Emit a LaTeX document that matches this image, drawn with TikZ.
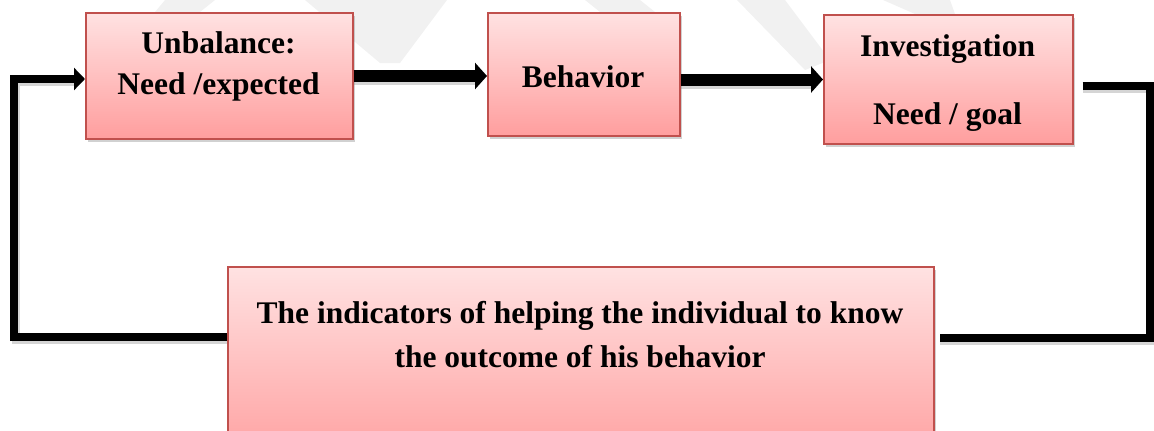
\documentclass[tikz,border=0pt]{standalone}
\usepackage{fontspec}
\setmainfont{Liberation Serif}
\usetikzlibrary{arrows.meta,shadows}
\definecolor{boxtop}{RGB}{255,226,226}
\definecolor{boxbot}{RGB}{255,158,158}
\definecolor{boxline}{RGB}{192,80,77}
\definecolor{wm}{RGB}{241,241,241}
\tikzset{
  boxnode/.style={draw=boxline, line width=1.5pt, top color=boxtop, bottom color=boxbot,
    inner sep=0pt, anchor=north west,
    drop shadow={shadow xshift=2pt, shadow yshift=-3pt, opacity=.3, fill=black!60}},
  lbl/.style={font=\fontsize{31.5}{38}\selectfont\bfseries, anchor=base, inner sep=0pt},
  bigarrow/.style={line width=12pt, -{Triangle[length=12pt,width=26pt]}},
  looparrow/.style={line width=8pt, -{Triangle[length=11pt,width=22pt]}},
  loopline/.style={line width=8pt},
  lshadow/.style={draw=black!55, opacity=.3},
}
\begin{document}
\begin{tikzpicture}[x=1pt,y=-1pt]
\useasboundingbox (0,0) rectangle (1154,431);
\clip (0,0) rectangle (1154,431);
% faint watermark
\fill[wm] (165,0) -- (215,0) -- (200,12) -- (155,12) -- cycle;
\fill[wm] (305,0) -- (447,0) -- (400,63) -- (380,63) -- cycle;
\fill[wm] (585,0) -- (640,0) -- (655,12) -- (600,12) -- cycle;
\fill[wm] (737,0) -- (785,0) -- (830,60) -- (805,70) -- cycle;
\fill[wm] (883,0) -- (950,0) -- (955,14) -- (915,14) -- cycle;

% boxes
\node[boxnode, minimum width=267pt, minimum height=126pt] (b1) at (85,12) {};
\node[boxnode, minimum width=192pt, minimum height=123pt] (b2) at (487,12) {};
\node[boxnode, minimum width=249pt, minimum height=129pt] (b3) at (823,14) {};
\node[boxnode, minimum width=706pt, minimum height=200pt] (b4) at (227,266) {};

% texts
\node[lbl] (t1a) at (218.5,53) {Unbalance:};
\node[lbl] (t1b) at (218.5,94) {Need /expected};
\node[lbl] (t2) at (583,87) {Behavior};
\node[lbl] (t3a) at (947.5,56) {Investigation};
\node[lbl] (t3b) at (947.5,124) {Need / goal};
\node[lbl] (t4a) at (580,323) {The indicators of helping the individual to know};
\node[lbl] (t4b) at (580,367) {the outcome of his behavior};

% connector shadows
\begin{scope}[shift={(2,3)}]
  \draw[lshadow, line width=12pt] (b1.east |- 0,76) -- (475,76);
  \draw[lshadow, line width=12pt] (b2.east |- 0,79.5) -- (813,79.5);
  \draw[lshadow, loopline] ([xshift=9pt]b3.east |- 0,85.5) -- (1150,85.5) -- (1150,337.5) -- ([xshift=5pt]b4.east |- 0,337.5);
  \draw[lshadow, loopline] (b4.west |- 0,336.5) -- (14,336.5) -- (14,79) -- (74,79);
\end{scope}

% connectors
\draw[bigarrow] (b1.east |- 0,76) -- (b2.west |- 0,76);
\draw[bigarrow] (b2.east |- 0,79.5) -- (b3.west |- 0,79.5);
\draw[loopline] ([xshift=9pt]b3.east |- 0,85.5) -- (1150,85.5) -- (1150,337.5) -- ([xshift=5pt]b4.east |- 0,337.5);
\draw[looparrow] (b4.west |- 0,336.5) -- (14,336.5) -- (14,79) -- (b1.west |- 0,79);
\end{tikzpicture}
\end{document}
